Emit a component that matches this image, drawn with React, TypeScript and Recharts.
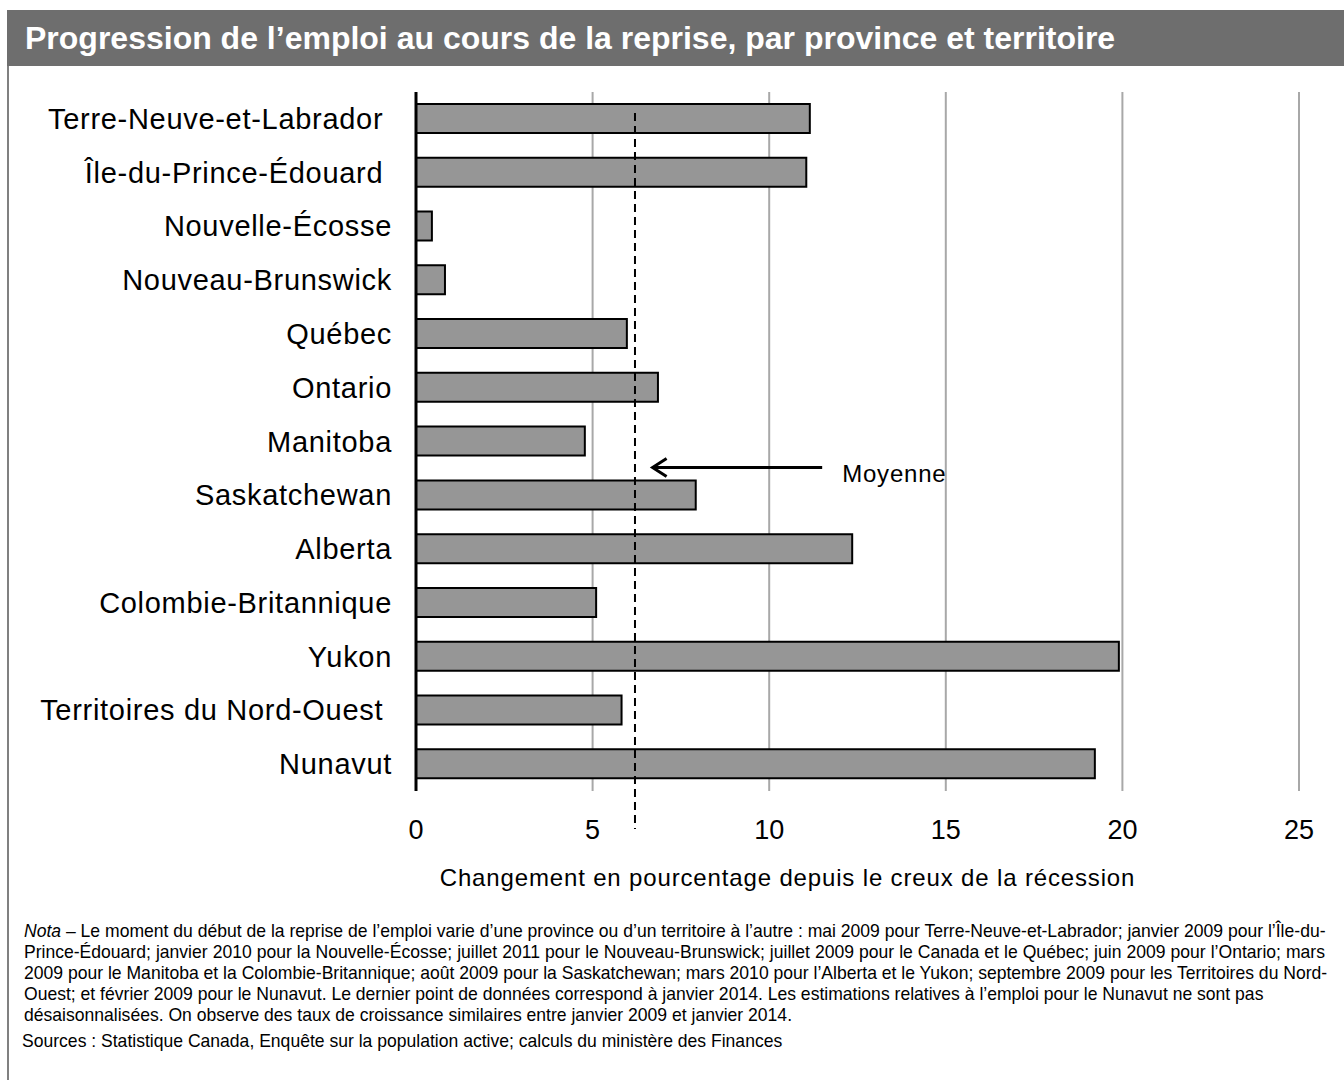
import { Bar, BarChart, CartesianGrid, Label, ReferenceLine, XAxis, YAxis } from "recharts";

// some source labels carry a trailing space, kept as in the original chart
const provinces = [
  "Terre-Neuve-et-Labrador ",
  "Île-du-Prince-Édouard ",
  "Nouvelle-Écosse",
  "Nouveau-Brunswick",
  "Québec",
  "Ontario",
  "Manitoba",
  "Saskatchewan",
  "Alberta",
  "Colombie-Britannique",
  "Yukon",
  "Territoires du Nord-Ouest ",
  "Nunavut",
];
const growth = [11.15, 11.05, 0.45, 0.82, 5.97, 6.85, 4.78, 7.92, 12.35, 5.1, 19.9, 5.82, 19.22];
const xTicks = [0, 5, 10, 15, 20, 25];
const average = 6.2;
// arrow pointing at the average line, between Manitoba and Saskatchewan
const arrowFrom = 11.5;
const arrowTo = 6.67;

const noteLines = [
  "Le moment du début de la reprise de l’emploi varie d’une province ou d’un territoire à l’autre : mai 2009 pour Terre-Neuve-et-Labrador; janvier 2009 pour l’Île-du-",
  "Prince-Édouard; janvier 2010 pour la Nouvelle-Écosse; juillet 2011 pour le Nouveau-Brunswick; juillet 2009 pour le Canada et le Québec; juin 2009 pour l’Ontario; mars",
  "2009 pour le Manitoba et la Colombie-Britannique; août 2009 pour la Saskatchewan; mars 2010 pour l’Alberta et le Yukon; septembre 2009 pour les Territoires du Nord-",
  "Ouest; et février 2009 pour le Nunavut. Le dernier point de données correspond à janvier 2014. Les estimations relatives à l’emploi pour le Nunavut ne sont pas",
  "désaisonnalisées. On observe des taux de croissance similaires entre janvier 2009 et janvier 2014.",
];

const data = provinces.map((name, i) => ({ name, value: growth[i] }));

const FONT = '"Liberation Sans", Arial, sans-serif';
const NARROW_SCALE = 0.924;

function CategoryTick(props: any) {
  const { x, y, payload } = props;
  return (
    <text
      x={x}
      y={y}
      dy={10}
      textAnchor="end"
      fontSize={29}
      letterSpacing={0.7}
      fill="#000"
      style={{ whiteSpace: "pre" }}
    >
      {payload.value}
    </text>
  );
}

function AverageLine(props: any) {
  const top = Math.min(props.y1, props.y2);
  const bottom = Math.max(props.y1, props.y2);
  return (
    <line
      x1={props.x1}
      x2={props.x2}
      y1={top + 21}
      y2={bottom + 38}
      stroke="#000"
      strokeWidth={2}
      strokeDasharray="8 5"
    />
  );
}

function MoyenneArrow(props: any) {
  const tip = Math.min(props.x1, props.x2);
  const tail = Math.max(props.x1, props.x2);
  const y = props.y1 + 26;
  return (
    <g>
      <line x1={tail} x2={tip + 2} y1={y} y2={y} stroke="#000" strokeWidth={3} />
      <polyline
        points={`${tip + 15},${y - 9} ${tip + 1},${y} ${tip + 15},${y + 9}`}
        fill="none"
        stroke="#000"
        strokeWidth={3}
      />
      <text x={tail + 20} y={y + 14} fontSize={24} letterSpacing={0.8} fill="#000" fontFamily={FONT}>
        Moyenne
      </text>
    </g>
  );
}

export default function App() {
  return (
    <div
      style={{
        position: "absolute",
        left: 0,
        top: 0,
        width: 1344,
        height: 1080,
        background: "#fff",
        overflow: "hidden",
        fontFamily: FONT,
      }}
    >
      <div style={{ position: "absolute", left: 7, top: 10, width: 2, height: 1070, background: "#808080" }} />
      <div
        style={{
          position: "absolute",
          left: 7,
          top: 10,
          width: 1337,
          height: 56,
          background: "#6e6e6e",
          color: "#fff",
          fontWeight: "bold",
          fontSize: 32,
          lineHeight: "56px",
          paddingLeft: 18,
          boxSizing: "border-box",
          whiteSpace: "nowrap",
        }}
      >
        Progression de l’emploi au cours de la reprise, par province et territoire
      </div>

      <div style={{ position: "absolute", left: 0, top: 0 }}>
        <BarChart
          width={1344}
          height={900}
          data={data}
          layout="vertical"
          margin={{ top: 92, right: 45, bottom: 0, left: 0 }}
          style={{ fontFamily: FONT }}
        >
          <CartesianGrid horizontal={false} stroke="#a8a8a8" strokeWidth={2} />
          <XAxis
            type="number"
            domain={[0, 25]}
            ticks={xTicks}
            axisLine={false}
            tickLine={false}
            tickMargin={23}
            height={109}
            tick={{ fontSize: 27, fill: "#000" }}
          >
            <Label
              value="Changement en pourcentage depuis le creux de la récession"
              position="insideBottom"
              offset={14}
              dx={-70}
              style={{ fontSize: 24, fill: "#000", letterSpacing: 0.85 }}
            />
          </XAxis>
          <YAxis
            type="category"
            dataKey="name"
            width={416}
            axisLine={{ stroke: "#000", strokeWidth: 3 }}
            tickLine={false}
            tickMargin={18}
            tick={CategoryTick}
            interval={0}
          />
          <Bar dataKey="value" fill="#969696" stroke="#000" strokeWidth={2} barSize={29} isAnimationActive={false} />
          <ReferenceLine x={average} stroke="#000" shape={AverageLine} />
          <ReferenceLine
            segment={[
              { x: arrowFrom, y: "Manitoba" },
              { x: arrowTo, y: "Manitoba" },
            ]}
            stroke="#000"
            shape={MoyenneArrow}
          />
        </BarChart>
      </div>

      <div
        style={{
          position: "absolute",
          left: 24,
          top: 920,
          width: 1301 / NARROW_SCALE,
          fontSize: 19,
          lineHeight: "21px",
          color: "#000",
          transform: `scaleX(${NARROW_SCALE})`,
          transformOrigin: "left top",
        }}
      >
        {noteLines.map((line, i) => (
          <div
            key={i}
            style={{
              whiteSpace: "nowrap",
              textAlign: "left",
              textAlignLast: i < 3 ? "justify" : "left",
            }}
          >
            {i === 0 && <i>Nota</i>}
            {i === 0 && " – "}
            {line}
          </div>
        ))}
      </div>
      <div
        style={{
          position: "absolute",
          left: 22,
          top: 1030,
          fontSize: 19,
          lineHeight: "21px",
          color: "#000",
          whiteSpace: "nowrap",
          transform: `scaleX(${NARROW_SCALE})`,
          transformOrigin: "left top",
        }}
      >
        Sources : Statistique Canada, Enquête sur la population active; calculs du ministère des Finances
      </div>
    </div>
  );
}
